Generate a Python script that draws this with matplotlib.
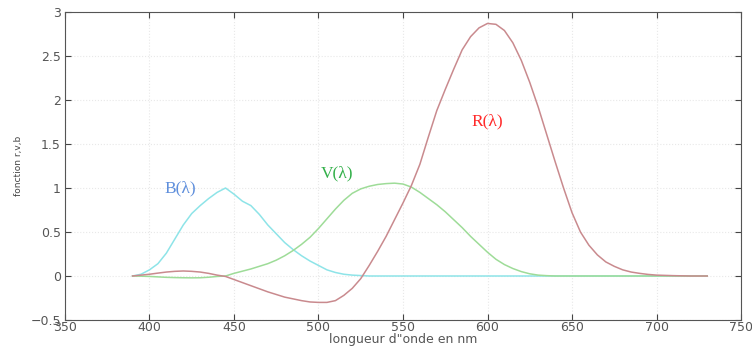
import matplotlib.pyplot as plt
import numpy as np

# wavelengths (nm)
wl = [390, 395, 400, 405, 410, 415, 420, 425, 430, 435, 440, 445, 450, 455,
      460, 465, 470, 475, 480, 485, 490, 495, 500, 505, 510, 515, 520, 525,
      530, 535, 540, 545, 550, 555, 560, 565, 570, 575, 580, 585, 590, 595,
      600, 605, 610, 615, 620, 625, 630, 635, 640, 645, 650, 655, 660, 665,
      670, 675, 680, 685, 690, 695, 700, 710, 720, 730]

r_vals = [0.0, 0.01, 0.02, 0.033, 0.045, 0.053, 0.057, 0.053, 0.045, 0.03, 0.01, -0.005, -0.04, -0.075,
          -0.11, -0.145, -0.18, -0.21, -0.24, -0.26, -0.28, -0.295, -0.30, -0.30, -0.28, -0.22, -0.14, -0.03,
          0.12, 0.28, 0.45, 0.64, 0.83, 1.03, 1.27, 1.58, 1.88, 2.12, 2.35, 2.57, 2.72, 2.82,
          2.87, 2.86, 2.79, 2.65, 2.45, 2.20, 1.92, 1.61, 1.30, 1.00, 0.72, 0.50, 0.35, 0.24,
          0.16, 0.11, 0.07, 0.045, 0.03, 0.018, 0.01, 0.004, 0.0, 0.0]

g_vals = [0.0, -0.002, -0.005, -0.01, -0.015, -0.018, -0.02, -0.021, -0.02, -0.014, -0.005, 0.0, 0.03, 0.055,
          0.08, 0.11, 0.14, 0.18, 0.23, 0.29, 0.36, 0.44, 0.54, 0.65, 0.76, 0.86, 0.94, 0.99,
          1.02, 1.04, 1.05, 1.055, 1.045, 1.01, 0.95, 0.88, 0.81, 0.73, 0.64, 0.55, 0.45, 0.36,
          0.27, 0.19, 0.13, 0.085, 0.05, 0.025, 0.01, 0.004, 0.0, 0.0, 0.0, 0.0, 0.0, 0.0,
          0.0, 0.0, 0.0, 0.0, 0.0, 0.0, 0.0, 0.0, 0.0, 0.0]

b_vals = [0.0, 0.02, 0.07, 0.14, 0.26, 0.42, 0.58, 0.71, 0.80, 0.88, 0.95, 1.0, 0.93, 0.85,
          0.80, 0.70, 0.58, 0.48, 0.38, 0.30, 0.23, 0.17, 0.12, 0.07, 0.04, 0.02, 0.01, 0.005,
          0.0, 0.0, 0.0, 0.0, 0.0, 0.0, 0.0, 0.0, 0.0, 0.0, 0.0, 0.0, 0.0, 0.0,
          0.0, 0.0, 0.0, 0.0, 0.0, 0.0, 0.0, 0.0, 0.0, 0.0, 0.0, 0.0, 0.0, 0.0,
          0.0, 0.0, 0.0, 0.0, 0.0, 0.0, 0.0, 0.0, 0.0, 0.0]

fig = plt.figure(figsize=(7.52, 3.47), dpi=100)
ax = fig.add_axes([0.0864, 0.0778, 0.899, 0.8876])

ax.plot(wl, b_vals, color='#8ee4e8', lw=1.1)
ax.plot(wl, g_vals, color='#9edc98', lw=1.1)
ax.plot(wl, r_vals, color='#c98a8e', lw=1.1)

ax.text(418, 1.0, 'B(\u03bb)', color='#5f8fdc', fontsize=12.5, family='Liberation Serif', ha='center', va='center')
ax.text(511, 1.17, 'V(\u03bb)', color='#33b04a', fontsize=12.5, family='Liberation Serif', ha='center', va='center')
ax.text(600, 1.76, 'R(\u03bb)', color='#ff2a2a', fontsize=12.5, family='Liberation Serif', ha='center', va='center')

ax.set_xlim(350, 750)
ax.set_ylim(-0.5, 3)
ax.set_xticks(np.arange(350, 751, 50))
ax.set_yticks(np.arange(-0.5, 3.01, 0.5))
ax.set_yticklabels(['\u22120.5', '0', '0.5', '1', '1.5', '2', '2.5', '3'])
ax.tick_params(direction='in', top=True, right=True, length=4, labelsize=9,
               labelcolor='#555555', color='#444444')
ax.tick_params(axis='x', pad=1)
ax.tick_params(axis='y', pad=3)
ax.grid(True, color='#e8e8e8', linestyle=':', linewidth=0.8)
for s in ax.spines.values():
    s.set_color('#555555')

ax.set_xlabel('longueur d"onde en nm', fontsize=9, color='#555555', labelpad=-1)
ax.set_ylabel('fonction r,v,b', fontsize=6.5, color='#444444', labelpad=5)

fig.savefig('out.png', dpi=100)
